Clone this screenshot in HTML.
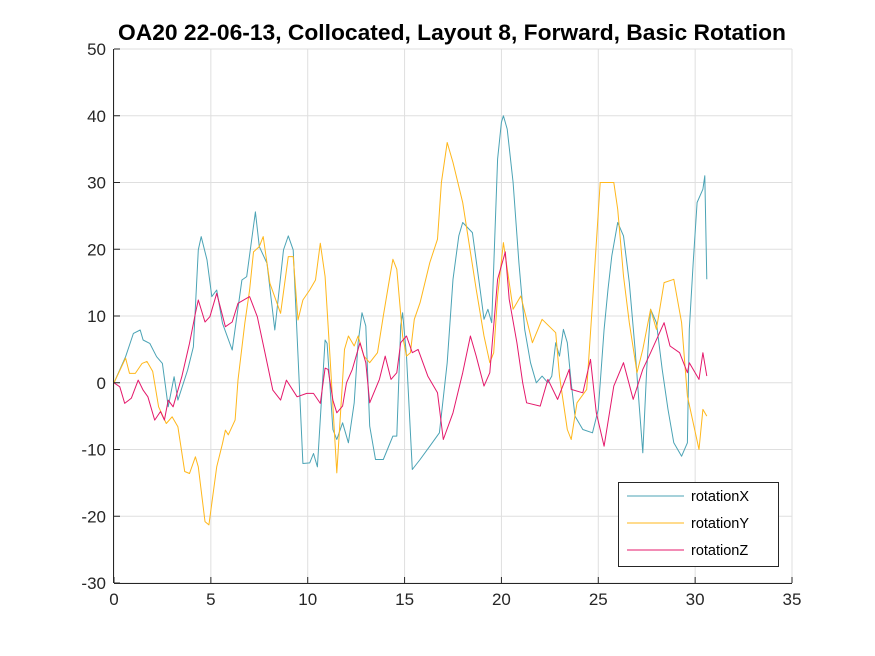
<!DOCTYPE html>
<html><head><meta charset="utf-8"><style>
body{margin:0;background:#fff;}
svg{display:block;font-family:"Liberation Sans",sans-serif;}
</style></head><body>
<svg id="chart" width="875" height="656" viewBox="0 0 875 656" xmlns="http://www.w3.org/2000/svg">
<rect width="875" height="656" fill="#fff"/>
<text x="452" y="40" text-anchor="middle" font-size="22.5" font-weight="bold" textLength="668" lengthAdjust="spacingAndGlyphs">OA20 22-06-13, Collocated, Layout 8, Forward, Basic Rotation</text>
<g id="grid"></g>
<g id="series"></g>
<g id="axes"></g>
<g>
<rect x="618.5" y="482.5" width="160" height="84" fill="#fff" stroke="#262626" stroke-width="1"/>
<line x1="627" y1="496" x2="684" y2="496" stroke="#4ba3b5" stroke-width="1"/>
<text x="691" y="501" font-size="14.5">rotationX</text>
<line x1="627" y1="523" x2="684" y2="523" stroke="#ffb71b" stroke-width="1"/>
<text x="691" y="528" font-size="14.5">rotationY</text>
<line x1="627" y1="550" x2="684" y2="550" stroke="#e4186b" stroke-width="1"/>
<text x="691" y="555" font-size="14.5">rotationZ</text>
</g>
</svg>
<script>
const xTicks=[0,5,10,15,20,25,30,35];
const yTicks=[-30,-20,-10,0,10,20,30,40,50];
const tX=[0,0.6,1,1.35,1.5,1.85,2.2,2.5,2.8,3.1,3.3,3.8,4.1,4.35,4.5,4.8,5.05,5.3,5.6,6.1,6.6,6.85,7.3,7.5,7.9,8.3,8.75,9,9.25,9.75,10.1,10.3,10.5,10.9,11,11.3,11.5,11.8,12.1,12.4,12.6,12.8,13,13.2,13.5,13.9,14.4,14.6,14.8,14.9,15.1,15.4,15.8,16.3,16.8,17.2,17.5,17.8,18,18.5,18.9,19.1,19.3,19.5,19.8,20,20.1,20.3,20.6,20.9,21.2,21.5,21.8,22.1,22.4,22.6,22.8,23,23.2,23.4,23.6,23.8,24.2,24.7,25,25.3,25.5,25.7,26,26.3,26.6,26.9,27.1,27.3,27.5,27.7,28,28.3,28.6,28.9,29.3,29.6,29.7,29.9,30.1,30.4,30.5,30.6];
const vX=[0,3.9,7.4,7.9,6.4,5.9,3.9,2.9,-3.6,0.9,-2.6,1.9,5.4,19.9,21.9,18.4,12.9,13.9,8.9,4.9,15.4,15.9,25.6,20.4,17.9,7.9,19.9,22,19.9,-12.1,-12,-10.6,-12.6,6.4,5.9,-7,-8.5,-6,-9,-3,6,10.5,8.5,-6.5,-11.5,-11.5,-8,-8,8.5,10.5,4,-13,-11.5,-9.5,-7.5,3,15.5,22,24,22.5,14,9.5,11,9,33.5,39,40,38,30,18,8,3,0,1,0,1,6,4,8,6,0,-5,-7,-7.5,-4,8,14,19,24,22,15,5,-3,-10.5,2,11,9,2,-4,-9,-11,-9,8,18,27,29,31,15.5];
const tY=[0,0.6,0.8,1.1,1.45,1.7,2,2.3,2.7,3,3.3,3.65,3.9,4.2,4.35,4.7,4.9,5.3,5.6,5.75,5.9,6.25,6.4,6.75,7,7.2,7.5,7.7,8.05,8.6,9,9.25,9.5,9.75,10.1,10.4,10.65,10.9,11.15,11.5,11.9,12.1,12.4,12.6,12.9,13.2,13.6,13.9,14.25,14.4,14.6,14.9,15.1,15.3,15.5,15.8,16.3,16.7,16.9,17.2,17.5,18,18.7,19.1,19.4,19.6,19.8,20.1,20.6,21,21.6,22.1,22.8,23,23.4,23.6,23.9,24.4,24.7,25.1,25.8,26,26.3,26.6,27,27.3,27.7,28,28.4,28.9,29.3,29.6,30.2,30.4,30.6];
const vY=[0,3.7,1.4,1.4,2.9,3.2,1.7,-3.6,-6.1,-5.1,-6.6,-13.3,-13.6,-11.1,-12.6,-20.8,-21.3,-12.6,-9.1,-7.1,-7.8,-5.6,0.4,8.9,13.9,19.6,20.4,21.9,14.9,10.4,18.9,18.9,9.4,12.4,13.9,15.4,20.9,15.9,3.9,-13.5,5,7,5.5,7,4,3,4.5,10,16,18.5,17,7,4,4.5,9.5,12,18,21.5,30,36,33,27,14,7,3,4.5,13,21,11,13,6,9.5,7.5,1,-7,-8.5,-3,-1,12,30,30,26,16,9,1.5,5,11,8,15,15.5,9,-2,-10,-4,-5];
const tZ=[0,0.3,0.55,0.9,1.25,1.5,1.75,2.1,2.4,2.6,2.8,3.05,3.5,3.9,4.2,4.35,4.7,4.95,5.3,5.75,6.1,6.4,7,7.4,7.8,8.2,8.6,8.9,9.45,9.95,10.3,10.65,10.9,11.05,11.3,11.5,11.8,12,12.3,12.7,13,13.2,13.7,14,14.3,14.6,14.8,15.1,15.4,15.7,16.2,16.7,17,17.5,18,18.4,18.7,19.1,19.4,19.8,20.2,20.4,20.8,21.1,21.3,22,22.4,22.9,23.5,23.6,24.2,24.6,24.9,25.3,25.8,26.3,26.8,27.3,27.7,28.4,28.7,29.2,29.6,29.7,30.2,30.4,30.6];
const vZ=[0,-0.6,-3.1,-2.3,0.4,-1.1,-2.1,-5.6,-4.3,-5.6,-2.6,-3.6,0.9,5.9,10.4,12.4,9.1,9.9,13.4,8.4,9.1,11.9,12.9,9.9,4.4,-1.1,-2.6,0.4,-2.1,-1.6,-1.6,-3.1,2.2,2,-2.6,-4.5,-3.5,0,2,6,3,-3,0.5,4,0.5,1.5,6,7,4.5,5,1,-1.5,-8.5,-4.5,1.5,7,4,-0.5,1.5,15.5,19.6,12.5,6,0,-3,-3.5,0.5,-2.5,2,-1,-1.5,3.5,-4.5,-9.5,-0.5,3,-2.5,2,4.5,9,5.5,4.5,1.5,3,0.5,4.5,1];
const X0=114,X1=792,Y0=583,Y1=49;
function sx(t){return X0+(t-0)/(35-0)*(X1-X0);}
function sy(v){return Y0-(v+30)/(50+30)*(Y0-Y1);}
const NS='http://www.w3.org/2000/svg';
const grid=document.getElementById('grid'),axes=document.getElementById('axes'),ser=document.getElementById('series');
function mk(tag,attrs,parent){const e=document.createElementNS(NS,tag);for(const k in attrs)e.setAttribute(k,attrs[k]);parent.appendChild(e);return e;}
xTicks.forEach(t=>{
 const g=mk('line',{x1:sx(t),x2:sx(t),y1:Y1,y2:Y0,stroke:'#dfdfdf','stroke-width':1},grid);
 
 
 const tk=mk('line',{x1:sx(t),x2:sx(t),y1:Y0,y2:Y0-6,stroke:'#262626','stroke-width':1},axes);
 
 
 const l=mk('text',{x:sx(t),y:Y0+22,'text-anchor':'middle','font-size':'17',fill:'#262626'},axes);
 l.textContent=t;
 
 
});
yTicks.forEach(v=>{
 const g=mk('line',{x1:X0,x2:X1,y1:sy(v),y2:sy(v),stroke:'#dfdfdf','stroke-width':1},grid);
 
 
 const tk=mk('line',{x1:X0,x2:X0+6,y1:sy(v),y2:sy(v),stroke:'#262626','stroke-width':1},axes);
 
 
 const l=mk('text',{x:X0-8,y:sy(v)+6,'text-anchor':'end','font-size':'17',fill:'#262626'},axes);
 l.textContent=v;
 
 
});
const xa=mk('line',{x1:X0,x2:X1,y1:Y0+0.5,y2:Y0+0.5,stroke:'#262626','stroke-width':1},axes);


const ya=mk('line',{x1:X0-0.5,x2:X0-0.5,y1:Y1,y2:Y0,stroke:'#262626','stroke-width':1},axes);


function line(ts,vs,color){return mk('polyline',{points:ts.map((t,i)=>sx(t).toFixed(1)+','+sy(vs[i]).toFixed(1)).join(' '),fill:'none',stroke:color,'stroke-width':1,'stroke-linejoin':'round'},ser);}
const lx=line(tX,vX,'#4ba3b5');


const ly=line(tY,vY,'#ffb71b');


const lz=line(tZ,vZ,'#e4186b');


</script>
</body></html>
